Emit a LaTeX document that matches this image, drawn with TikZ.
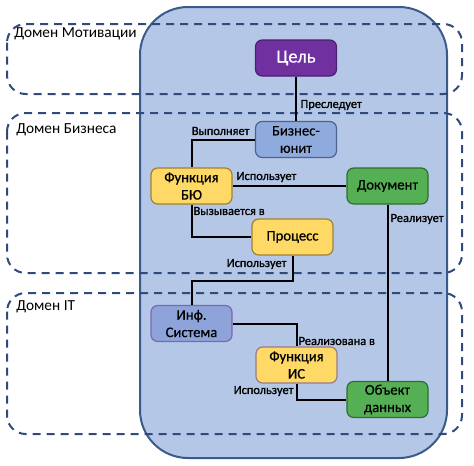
\documentclass[tikz,border=0pt]{standalone}
\usepackage{fontspec}
\setmainfont{Carlito}
\newfontfamily\semib[FakeBold=1.2]{Carlito}
\newfontfamily\medw[FakeBold=0.6]{Carlito}
\definecolor{bigfill}{HTML}{B4C7E7}
\definecolor{bigline}{HTML}{3B5A8C}
\definecolor{domline}{HTML}{2F4B7C}
\definecolor{purp}{HTML}{7030A0}
\definecolor{purpline}{HTML}{4B2070}
\definecolor{bufill}{HTML}{8FAADC}
\definecolor{buline}{HTML}{4A6391}
\definecolor{yel}{HTML}{FFD966}
\definecolor{yelline}{HTML}{A08030}
\definecolor{grn}{HTML}{55B055}
\definecolor{grnline}{HTML}{2E6E2E}
\definecolor{isfill}{HTML}{8EA3D9}
\definecolor{isline}{HTML}{7A68B0}
\definecolor{fisline}{HTML}{9C7A8A}
\begin{document}
\begin{tikzpicture}[x=0.75pt,y=-0.75pt,
  box/.style={draw, rounded corners=5pt, line width=0.9pt, minimum width=60.75pt, minimum height=27pt, align=center, inner sep=1pt, font=\medw\fontsize{11}{13}\selectfont},
  dom/.style={draw=domline, line width=1.5pt, dash pattern=on 6pt off 4.5pt, rounded corners=14pt},
  conn/.style={draw=black, line width=1.5pt},
  lab/.style={inner sep=1pt, font=\semib\fontsize{9.3}{11}\selectfont},
  domlab/.style={inner sep=0pt, anchor=west, font=\fontsize{11.5}{13}\selectfont}]
\useasboundingbox (0,0) rectangle (474,465);
% big container
\draw[fill=bigfill, draw=bigline, line width=1.5pt, rounded corners=36pt] (140,7) rectangle (447,458);
% domains
\draw[dom] (7,24) rectangle (462,94);
\draw[dom] (7,113) rectangle (462,273);
\draw[dom] (7,293) rectangle (462,434);
\node[domlab] (dm) at (14,34) {Домен Мотивации};
\node[domlab] (db) at (16,130) {Домен Бизнеса};
\node[domlab] (dit) at (16,307) {Домен IT};
% nodes
\node[box, fill=purp, draw=purpline, text=white, font=\medw\fontsize{14}{16}\selectfont] (cel) at (296,58) {Цель};
\node[box, fill=bufill, draw=buline] (bu) at (296,139.5) {Бизнес-\\юнит};
\node[box, fill=yel, draw=yelline] (fbu) at (191.5,186) {Функция\\БЮ};
\node[box, fill=grn, draw=grnline] (doc) at (387.5,186) {Документ};
\node[box, fill=yel, draw=yelline] (proc) at (292.5,237) {Процесс};
\node[box, fill=isfill, draw=isline] (is) at (191.5,323.5) {Инф.\\Система};
\node[box, fill=yel, draw=fisline] (fis) at (296.5,365) {Функция\\ИС};
\node[box, fill=grn, draw=grnline] (obj) at (387.5,399.5) {Объект\\данных};
% connectors
\draw[conn] (cel.south) -- (bu.north);
\draw[conn] (bu.west) -| (fbu.north);
\draw[conn] (fbu.east) -- (doc.west);
\draw[conn] (fbu.south) |- (proc.west);
\draw[conn] (proc.south) -- ++(0,25) -| (is.north);
\draw[conn] (is.east) -| (fis.north);
\draw[conn] (doc.south) -- (obj.north);
\draw[conn] (fis.south) |- (obj.west);
% labels
\node[lab, anchor=west] (l1) at (299,105) {Преследует};
\node[lab, anchor=east] (l2) at (251,131) {Выполняет};
\node[lab, anchor=west] (l3) at (235,177) {Использует};
\node[lab, anchor=west] (l4) at (192,211) {Вызывается в};
\node[lab, anchor=east] (l5) at (288,264) {Использует};
\node[lab, anchor=west] (l6) at (389,219) {Реализует};
\node[lab, anchor=west] (l7) at (297,341) {Реализована в};
\node[lab, anchor=east] (l8) at (295,391) {Использует};
\end{tikzpicture}
\end{document}
